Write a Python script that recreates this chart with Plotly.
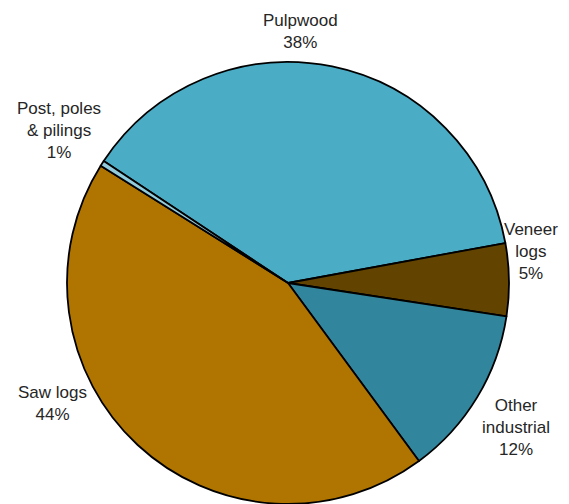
import plotly.graph_objects as go

categories = ["Pulpwood", "Veneer logs", "Other industrial", "Saw logs", "Post, poles & pilings"]
values = [37.8, 5.3, 12.5, 44.0, 0.4]
pct_labels = ["38%", "5%", "12%", "44%", "1%"]
label_text = ["Pulpwood", "Veneer<br>logs", "Other<br>industrial", "Saw logs", "Post, poles<br>& pilings"]
colors = ["#4BACC6", "#634300", "#31859C", "#B07500", "#93CDDD"]

W, H = 569, 504
fig = go.Figure(go.Pie(
    labels=categories,
    values=values,
    sort=False,
    direction="clockwise",
    rotation=-56.5,
    marker=dict(colors=colors, line=dict(color="black", width=1.8)),
    textinfo="none",
    hoverinfo="label+percent",
    showlegend=False,
    domain=dict(x=[67 / W, 509 / W], y=[0, 442 / H]),
))

# label anchor positions (pixels from top-left)
label_pos = [(300, 31), (531, 251), (516, 427), (52, 403), (59, 130)]
for txt, pct, (px, py) in zip(label_text, pct_labels, label_pos):
    fig.add_annotation(
        x=px / W, y=1 - py / H, xref="paper", yref="paper",
        text=f"{txt}<br>{pct}", showarrow=False,
        font=dict(family="Liberation Sans, Arial", size=17, color="#262626"),
        xanchor="center", yanchor="middle", align="center",
    )

fig.update_layout(
    width=W, height=H,
    margin=dict(l=0, r=0, t=0, b=0),
    paper_bgcolor="white", plot_bgcolor="white",
)
fig.write_html("out.html")
